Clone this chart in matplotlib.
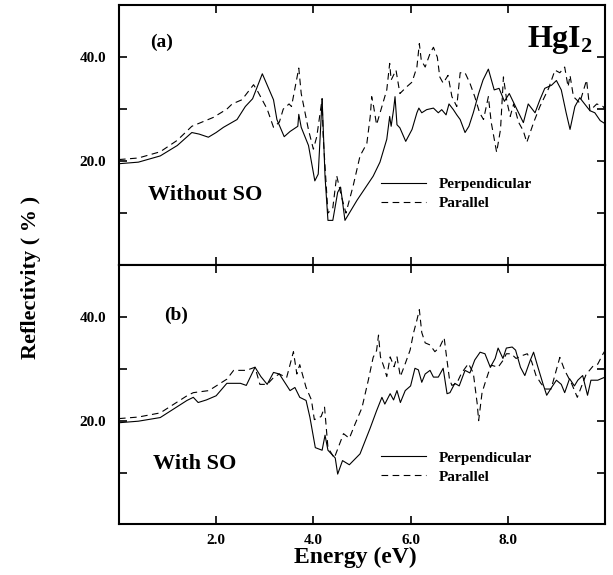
import numpy as np
import matplotlib
matplotlib.use('Agg')
import matplotlib.pyplot as plt

### DATA

# (a) without spin-orbit
e_perp_a = [0.0, 0.4, 0.85, 1.2, 1.5, 1.65, 1.84, 2.0, 2.15, 2.43, 2.6, 2.75, 2.95, 3.18, 3.25, 3.4, 3.52, 3.68, 3.7, 3.75,
            3.9, 4.03, 4.1, 4.18, 4.24, 4.3, 4.4, 4.5, 4.56, 4.65, 4.9, 5.23, 5.37, 5.51, 5.57, 5.6, 5.65, 5.68, 5.72, 5.78,
            5.9, 6.03, 6.13, 6.17, 6.23, 6.33, 6.47, 6.57, 6.64, 6.73, 6.79, 6.88, 6.95, 7.02, 7.12, 7.2, 7.29, 7.4, 7.49, 7.6,
            7.72, 7.82, 7.93, 8.03, 8.19, 8.32, 8.42, 8.56, 8.66, 8.76, 8.9, 9.0, 9.1, 9.2, 9.28, 9.38, 9.48, 9.58, 9.69, 9.79,
            9.9, 10.0]
r_perp_a = [19.5, 19.8, 21.0, 23.0, 25.5, 25.2, 24.6, 25.5, 26.5, 28.0, 30.5, 32.0, 36.8, 31.8, 28.0, 24.7, 25.7, 26.7, 29.0, 26.5,
            23.0, 16.2, 17.5, 32.0, 17.0, 8.6, 8.6, 14.0, 15.0, 8.6, 12.5, 17.1, 19.8, 24.2, 28.6, 26.7, 29.9, 32.4, 27.0, 26.4,
            23.8, 26.1, 29.3, 30.2, 29.3, 29.9, 30.2, 29.3, 29.9, 28.9, 31.0, 29.9, 28.9, 28.0, 25.5, 26.7, 29.3, 33.0, 35.6, 37.7,
            33.7, 34.0, 31.5, 33.0, 29.9, 27.4, 31.0, 29.3, 31.8, 34.0, 34.6, 35.5, 33.7, 29.3, 26.1, 30.5, 32.2, 31.0, 29.7, 29.3,
            27.8, 27.2]

e_par_a = [0.0, 0.4, 0.85, 1.2, 1.5, 1.94, 2.22, 2.33, 2.53, 2.77, 2.85, 3.05, 3.18, 3.3, 3.38, 3.5, 3.55, 3.7, 3.75, 3.9,
           4.0, 4.07, 4.18, 4.2, 4.3, 4.4, 4.48, 4.57, 4.67, 4.82, 4.96, 5.1, 5.17, 5.2, 5.24, 5.3, 5.41, 5.51, 5.57, 5.6,
           5.7, 5.78, 5.92, 6.03, 6.13, 6.18, 6.22, 6.3, 6.4, 6.47, 6.55, 6.6, 6.67, 6.77, 6.85, 6.95, 7.02, 7.12, 7.22, 7.32,
           7.42, 7.5, 7.6, 7.66, 7.77, 7.85, 7.91, 7.98, 8.05, 8.12, 8.22, 8.32, 8.39, 8.53, 8.66, 8.84, 8.97, 9.07, 9.17, 9.24,
           9.28, 9.35, 9.48, 9.62, 9.69, 9.83, 9.96, 10.0]
r_par_a = [20.3, 20.6, 21.8, 24.0, 26.7, 28.4, 30.0, 31.0, 31.8, 34.7, 33.5, 30.0, 26.5, 27.5, 30.0, 31.0, 30.5, 37.9, 33.0, 26.0,
           22.3, 24.7, 32.0, 25.0, 10.0, 11.0, 17.2, 13.5, 10.0, 15.3, 21.0, 23.4, 28.6, 32.4, 30.5, 27.0, 30.5, 33.7, 38.8, 35.6,
           37.5, 33.0, 34.3, 35.2, 38.1, 42.6, 39.4, 38.1, 40.7, 41.9, 40.0, 36.2, 35.0, 36.5, 32.4, 30.5, 37.0, 37.0, 35.0, 32.4,
           29.3, 28.0, 32.4, 27.4, 21.7, 26.1, 36.2, 31.5, 28.6, 31.0, 27.5, 25.8, 23.6, 27.4, 30.5, 34.0, 37.5, 37.0, 38.1, 34.3,
           36.5, 32.4, 31.2, 35.6, 29.7, 31.0, 30.5, 30.0]

# (b) with spin-orbit
e_perp_b = [0.0, 0.4, 0.85, 1.4, 1.53, 1.63, 1.8, 2.0, 2.22, 2.5, 2.62, 2.8, 2.92, 3.05, 3.18, 3.3, 3.52, 3.62, 3.72, 3.85,
            3.93, 4.04, 4.18, 4.24, 4.3, 4.45, 4.5, 4.6, 4.74, 4.96, 5.17, 5.3, 5.41, 5.47, 5.58, 5.65, 5.72, 5.79, 5.89, 6.0,
            6.09, 6.16, 6.23, 6.3, 6.4, 6.47, 6.57, 6.67, 6.75, 6.81, 6.91, 7.0, 7.12, 7.22, 7.32, 7.43, 7.53, 7.64, 7.74, 7.8,
            7.9, 7.97, 8.09, 8.16, 8.26, 8.35, 8.46, 8.53, 8.62, 8.72, 8.8, 8.9, 9.0, 9.1, 9.17, 9.27, 9.37, 9.44, 9.54, 9.64,
            9.71, 9.85, 10.0]
r_perp_b = [19.6, 19.9, 20.6, 23.9, 24.5, 23.5, 24.0, 24.8, 27.2, 27.2, 26.8, 30.3, 28.5, 27.0, 29.3, 29.0, 25.8, 26.4, 24.5, 23.9,
            20.6, 14.8, 14.3, 17.2, 14.3, 12.8, 9.7, 12.3, 11.5, 13.6, 18.6, 21.9, 24.5, 23.2, 25.2, 24.0, 25.8, 23.5, 25.8, 26.7,
            30.1, 29.8, 27.4, 29.0, 29.7, 28.4, 28.4, 30.1, 25.2, 25.4, 27.2, 26.7, 29.7, 29.2, 31.7, 33.2, 32.9, 30.3, 32.0, 34.0,
            32.0, 34.0, 34.2, 33.6, 30.3, 28.7, 31.6, 33.2, 30.3, 27.2, 24.9, 26.4, 27.8, 27.0, 25.4, 28.1, 26.7, 27.8, 28.7, 24.9,
            27.8, 27.8, 28.4]

e_par_b = [0.0, 0.4, 0.85, 1.4, 1.53, 1.85, 2.22, 2.36, 2.62, 2.8, 2.9, 3.05, 3.18, 3.3, 3.45, 3.59, 3.66, 3.72, 3.85, 3.96,
           4.02, 4.16, 4.23, 4.3, 4.43, 4.62, 4.74, 4.86, 5.0, 5.13, 5.23, 5.3, 5.34, 5.38, 5.45, 5.51, 5.58, 5.66, 5.72, 5.79,
           5.89, 5.99, 6.06, 6.13, 6.18, 6.23, 6.3, 6.4, 6.5, 6.6, 6.69, 6.74, 6.8, 6.85, 6.95, 7.05, 7.19, 7.29, 7.37, 7.4,
           7.47, 7.53, 7.6, 7.66, 7.8, 7.9, 7.97, 8.07, 8.17, 8.28, 8.4, 8.49, 8.58, 8.68, 8.78, 8.89, 8.99, 9.07, 9.17, 9.31,
           9.43, 9.52, 9.61, 9.76, 9.85, 9.96, 10.0]
r_par_b = [20.4, 20.7, 21.5, 24.8, 25.4, 25.8, 28.0, 29.7, 29.7, 30.3, 27.0, 27.0, 28.3, 29.0, 28.3, 33.3, 29.0, 30.8, 26.4, 24.0,
           20.2, 20.8, 22.6, 14.8, 12.8, 17.5, 16.6, 19.4, 22.5, 27.8, 32.2, 33.5, 36.5, 32.3, 30.4, 28.5, 32.3, 30.4, 32.3, 28.5,
           31.0, 33.6, 36.9, 39.4, 41.4, 37.0, 35.0, 34.6, 33.3, 34.2, 36.0, 32.3, 28.0, 26.8, 27.2, 29.2, 31.0, 29.2, 23.3, 20.0,
           25.4, 27.2, 29.2, 30.7, 30.3, 31.6, 32.9, 32.9, 32.0, 32.5, 32.9, 31.4, 28.7, 27.2, 26.1, 26.1, 29.5, 32.2, 29.7, 27.2,
           24.5, 26.7, 28.9, 30.6, 30.9, 32.9, 33.5]

plt.rcParams['font.family'] = 'Liberation Serif'
plt.rcParams['font.weight'] = 'bold'
plt.rcParams['mathtext.fontset'] = 'custom'
plt.rcParams['mathtext.bf'] = 'Liberation Serif:bold'
plt.rcParams['mathtext.rm'] = 'Liberation Serif:bold'

fig = plt.figure(figsize=(6.13, 5.75), dpi=100)
ax1 = fig.add_axes([0.194, 0.539, 0.793, 0.452])
ax2 = fig.add_axes([0.194, 0.088, 0.793, 0.451])

panels = [(ax1, e_perp_a, r_perp_a, e_par_a, r_par_a, 0.275),
          (ax2, e_perp_b, r_perp_b, e_par_b, r_par_b, 0.22)]

for ax, ep, rp, ea, ra, leg_y in panels:
    ax.plot(ep, rp, color='black', lw=0.8, label='Perpendicular')
    ax.plot(ea, ra, color='black', lw=0.8, dashes=(6, 4), label='Parallel')
    ax.set_xlim(0, 10)
    ax.set_ylim(0, 50)
    ax.set_xticks([2, 4, 6, 8])
    ax.set_yticks([10, 20, 30, 40])
    ax.set_yticklabels(['', '20.0', '', '40.0'], fontsize=11, fontweight='bold')
    ax.tick_params(direction='in', top=True, right=True, length=6, width=1.2)
    ax.tick_params(axis='y', pad=9)
    ax.tick_params(axis='x', pad=7)
    for s in ax.spines.values():
        s.set_linewidth(1.5)
    leg = ax.legend(loc='center left', bbox_to_anchor=(0.51, leg_y), frameon=False, fontsize=11,
                    handlelength=3.0, handletextpad=0.8, labelspacing=0.35)
    for t in leg.get_texts():
        t.set_fontweight('bold')

ax1.set_xticklabels([])
ax2.set_xticklabels(['2.0', '4.0', '6.0', '8.0'], fontsize=11, fontweight='bold')

ax1.text(0.065, 0.84, '(a)', transform=ax1.transAxes, fontsize=14, fontweight='bold')
ax1.text(0.06, 0.25, 'Without SO', transform=ax1.transAxes, fontsize=16, fontweight='bold')
ax1.text(0.84, 0.84, r'HgI$_\mathbf{2}$', transform=ax1.transAxes, fontsize=23, fontweight='bold')
ax2.text(0.092, 0.79, '(b)', transform=ax2.transAxes, fontsize=14, fontweight='bold')
ax2.text(0.07, 0.215, 'With SO', transform=ax2.transAxes, fontsize=16, fontweight='bold')

fig.text(0.05, 0.518, 'Reflectivity ( % )', rotation=90, ha='center', va='center', fontsize=16, fontweight='bold')
fig.text(0.58, 0.03, 'Energy (eV)', ha='center', va='center', fontsize=17, fontweight='bold')

plt.savefig('out.png', dpi=100)
